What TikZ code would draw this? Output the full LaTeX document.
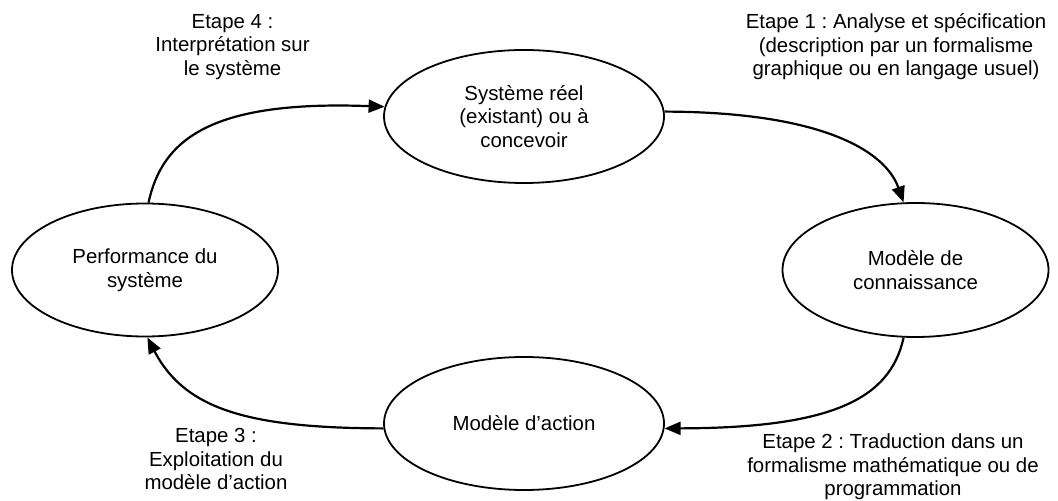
\documentclass[tikz,border=0pt]{standalone}
\usepackage{fontspec}
\setmainfont{Liberation Sans}
\frenchspacing
\usetikzlibrary{shapes.geometric,arrows.meta}
\tikzset{
  txt/.style={font=\fontsize{10.2pt}{11.75pt}\selectfont, align=center, inner sep=0pt},
  ell/.style={txt, draw, ellipse, line width=0.9pt},
  conn/.style={line width=1.1pt, -{Triangle[length=8pt,width=6.5pt]}}
}
\begin{document}
\begin{tikzpicture}[x=0.5pt,y=-0.5pt]
\useasboundingbox (0,0) rectangle (1058,501);
\node[ell, minimum width=140pt, minimum height=66.5pt] (sys) at (524,116.5) {Système réel\\(existant) ou à\\concevoir};
\node[ell, minimum width=133pt, minimum height=67pt] (mc) at (915.5,270) {Modèle de\\connaissance};
\node[ell, minimum width=140pt, minimum height=66.5pt] (ma) at (524,423.5) {Modèle d’action};
\node[ell, minimum width=133pt, minimum height=66.5pt] (perf) at (145,270) {Performance du\\système};

\node[txt] (e4) at (232.5,47) {Etape 4 :\\Interprétation sur\\le système};
\node[txt] (e1) at (896,47) {Etape 1 : Analyse et spécification\\(description par un formalisme\\graphique ou en langage usuel)};
\node[txt] (e3) at (216,459) {Etape 3 :\\Exploitation du\\modèle d’action};
\node[txt] (e2) at (893,467) {Etape 2 : Traduction dans un\\formalisme mathématique ou de\\programmation};

\draw[conn] (sys.2) .. controls (820,112) and (885,150) .. (mc.100);
\draw[conn] (mc.260) .. controls (890,400) and (830,428) .. (ma.358);
\draw[conn] (ma.182) .. controls (250,428) and (185,410) .. (perf.272);
\draw[conn] (perf.87) .. controls (162,140) and (210,100) .. (sys.176);
\end{tikzpicture}
\end{document}
